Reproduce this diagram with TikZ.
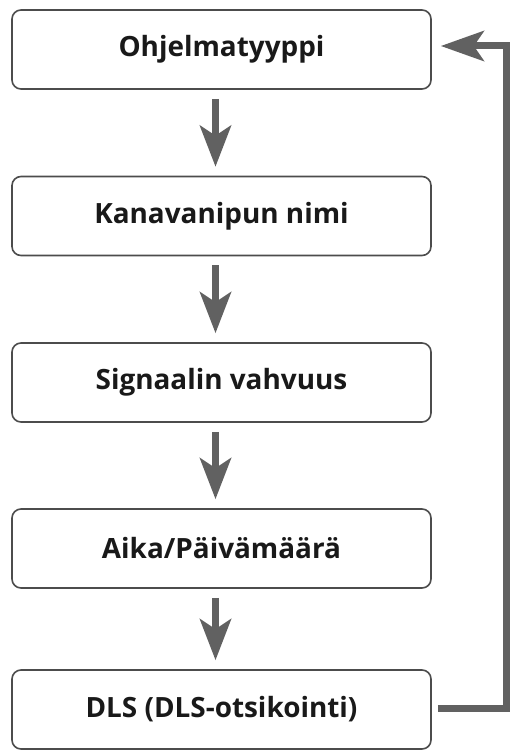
\documentclass[tikz,border=0pt]{standalone}
\usepackage{fontspec}
\setmainfont{Open Sans}
\usetikzlibrary{arrows.meta,calc}
\begin{document}
\begin{tikzpicture}[x=1bp,y=-1bp,
  stepbox/.style={draw=black!70,line width=1.6bp,rounded corners=9bp,fill=white,
    minimum width=419bp,minimum height=79bp,inner sep=0pt,
    font=\fontsize{28}{30}\selectfont\bfseries,text=black!90},
  flow/.style={draw=black!62,line width=7bp,
    -{Stealth[length=41bp,width=31bp,inset=10bp]}}]
\useasboundingbox (0,0) rectangle (517,751);
\node[stepbox] (b1) at (221.5,49.5) {Ohjelmatyyppi};
\node[stepbox] (b2) at (221.5,216) {Kanavanipun nimi};
\node[stepbox] (b3) at (221.5,382.5) {Signaalin vahvuus};
\node[stepbox] (b4) at (221.5,548.5) {Aika/Päivämäärä};
\node[stepbox] (b5) at (221.5,709.5) {DLS (DLS-otsikointi)};
\foreach \a/\b in {b1/b2,b2/b3,b3/b4,b4/b5}{
  \draw[flow,shorten <=9bp,shorten >=9bp] ($(\a.south)+(-6,0)$) -- ($(\b.north)+(-6,0)$);
}
\coordinate (c1) at (506,708);
\coordinate (c2) at (506,46);
\draw[flow,-{Stealth[length=43bp,width=30bp,inset=10bp]},shorten <=6bp,shorten >=9bp]
  (b5.east |- c1) -- (c1) -- (c2) -- (b1.east |- c2);
\end{tikzpicture}
\end{document}
